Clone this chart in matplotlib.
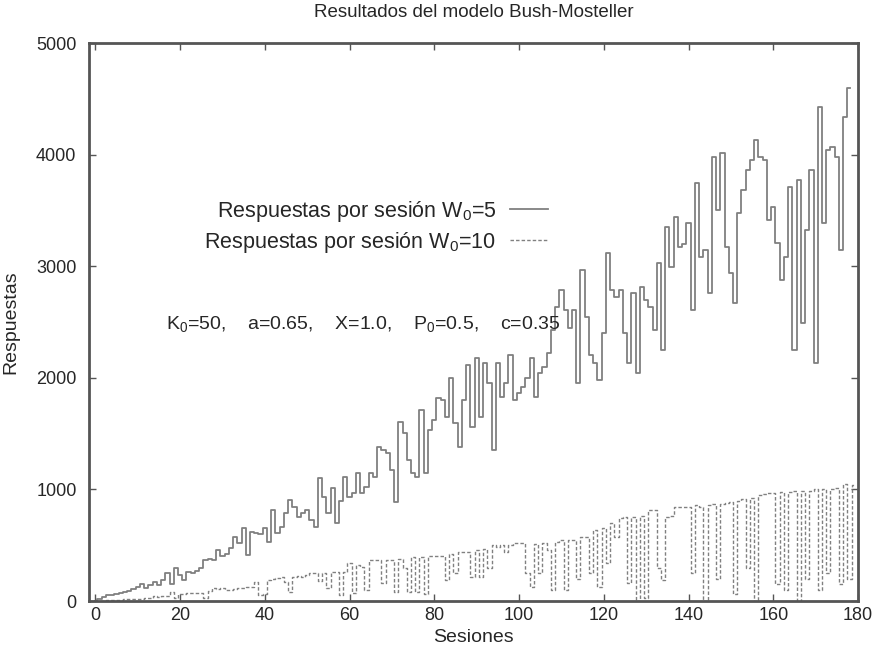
import matplotlib
matplotlib.use("Agg")
import matplotlib.pyplot as plt
import numpy as np

plt.rcParams['font.family'] = ['Liberation Sans', 'DejaVu Sans']
plt.rcParams['mathtext.fontset'] = 'custom'
plt.rcParams['mathtext.rm'] = 'Liberation Sans'
plt.rcParams['mathtext.it'] = 'Liberation Sans'

title = "Resultados del modelo Bush-Mosteller"
xlabel = "Sesiones"
ylabel = "Respuestas"
label_w5 = "Respuestas por sesión W$_0$=5"
label_w10 = "Respuestas por sesión W$_0$=10"
params_text = "K$_0$=50,    a=0.65,    X=1.0,    P$_0$=0.5,    c=0.35"
xticks = [0, 20, 40, 60, 80, 100, 120, 140, 160, 180]
yticks = [0, 1000, 2000, 3000, 4000, 5000]

# Respuestas por sesión, W0=5 (sesiones 0..178)
w5 = [0, 20, 40, 50, 55, 60, 70, 80, 90, 110,
      128, 150, 115, 140, 173, 140, 190, 250, 150, 296,
      230, 190, 260, 250, 270, 296, 367, 380, 370, 457,
      400, 420, 472, 576, 516, 651, 412, 621, 606, 600,
      651, 531, 815, 606, 666, 785, 905, 845, 755, 790,
      815, 725, 666, 1099, 935, 785, 1009, 696, 900, 1114,
      935, 965, 1144, 965, 1024, 1144, 1114, 1383, 1353, 1323,
      1174, 890, 1607, 1503, 1263, 1150, 1114, 1712, 1144, 1533,
      1622, 1816, 1801, 1652, 1995, 1592, 1383, 1800, 2115, 1563,
      2174, 1651, 2130, 1950, 1353, 2130, 1831, 1950, 2204, 1801,
      1860, 1920, 1995, 2174, 1831, 2040, 2100, 2219, 2428, 2637,
      2786, 2607, 2443, 2607, 1950, 2966, 2548, 2200, 2130, 1980,
      2398, 3115, 2786, 2727, 2786, 2398, 2130, 2757, 2040, 2816,
      2700, 2637, 2428, 3026, 2249, 3354, 2996, 3444, 3175, 3200,
      3384, 2607, 3743, 3085, 3145, 2757, 3982, 3504, 4012, 3175,
      2936, 2667, 3474, 3683, 3862, 3952, 4131, 3982, 3952, 3414,
      3534, 3205, 2876, 3085, 3713, 2249, 3772, 2488, 3324, 3862,
      2130, 4430, 3384, 4041, 4071, 3982, 3145, 4340, 4600]

# Respuestas por sesión, W0=10 (sesiones 0..179)
w10 = [0, 2, 4, 6, 8, 10, 12, 14, 16, 18,
       20, 22, 25, 28, 45, 40, 42, 45, 80, 25,
       60, 65, 68, 68, 70, 68, 23, 90, 113, 110,
       113, 100, 98, 110, 115, 120, 128, 125, 173, 54,
       60, 187, 200, 205, 217, 173, 84, 217, 220, 217,
       230, 247, 247, 180, 247, 120, 262, 262, 54, 262,
       338, 69, 320, 308, 100, 367, 367, 367, 158, 367,
       370, 80, 380, 300, 80, 390, 80, 390, 60, 403,
       403, 403, 403, 188, 420, 250, 442, 442, 442, 218,
       457, 218, 470, 300, 502, 480, 502, 442, 502, 517,
       517, 517, 248, 129, 510, 250, 520, 457, 100, 530,
       547, 100, 547, 547, 200, 576, 576, 250, 636, 129,
       650, 340, 700, 573, 740, 755, 160, 755, 0, 760,
       30, 815, 815, 300, 190, 755, 760, 845, 845, 845,
       845, 250, 860, 845, 0, 860, 870, 200, 870, 880,
       890, 60, 900, 910, 300, 920, 0, 950, 960, 970,
       970, 150, 980, 100, 980, 990, 0, 990, 200, 990,
       1000, 100, 1000, 250, 1000, 1010, 150, 1050, 200, 1040]

line_color = "#808080"
text_color = "#262626"
frame_color = "#555555"

fig = plt.figure(figsize=(8.86, 6.5), dpi=100)
ax = fig.add_axes([89/886, 1-601/650, 769/886, 558/650])

s5 = np.arange(len(w5))
s10 = np.arange(len(w10))
l1, = ax.plot(s5, w5, color=line_color, lw=1.3, drawstyle='steps-mid', label=label_w5)
l2, = ax.plot(s10, w10, color=line_color, lw=1.0, drawstyle='steps-mid',
              dashes=(2.5, 1.5), label=label_w10)

ax.set_xlim(-1.5, 179.5)
ax.set_ylim(0, 5000)
ax.set_xticks(xticks)
ax.set_yticks(yticks)
ax.tick_params(direction='in', top=True, right=True, length=5, width=1,
               colors=frame_color, labelcolor=text_color, labelsize=13)
ax.tick_params(axis='x', pad=4)
ax.tick_params(axis='y', pad=9)
for sp in ax.spines.values():
    sp.set_color(frame_color)
    sp.set_linewidth(2)

ax.set_title(title, fontsize=13.5, color=text_color, pad=19)
ax.set_xlabel(xlabel, fontsize=14, color=text_color, labelpad=4)
ax.set_ylabel(ylabel, fontsize=14, color=text_color, labelpad=12)

leg = ax.legend(handles=[l1, l2], loc='upper right', bbox_to_anchor=(0.622, 0.756),
                frameon=False, markerfirst=False, fontsize=15.5, handlelength=1.75,
                handletextpad=0.65, labelspacing=0.3, labelcolor=text_color)

ax.text(0.1, 0.497, params_text, transform=ax.transAxes, fontsize=14,
        color=text_color, va='center', ha='left')

fig.savefig("out.png", dpi=100)
